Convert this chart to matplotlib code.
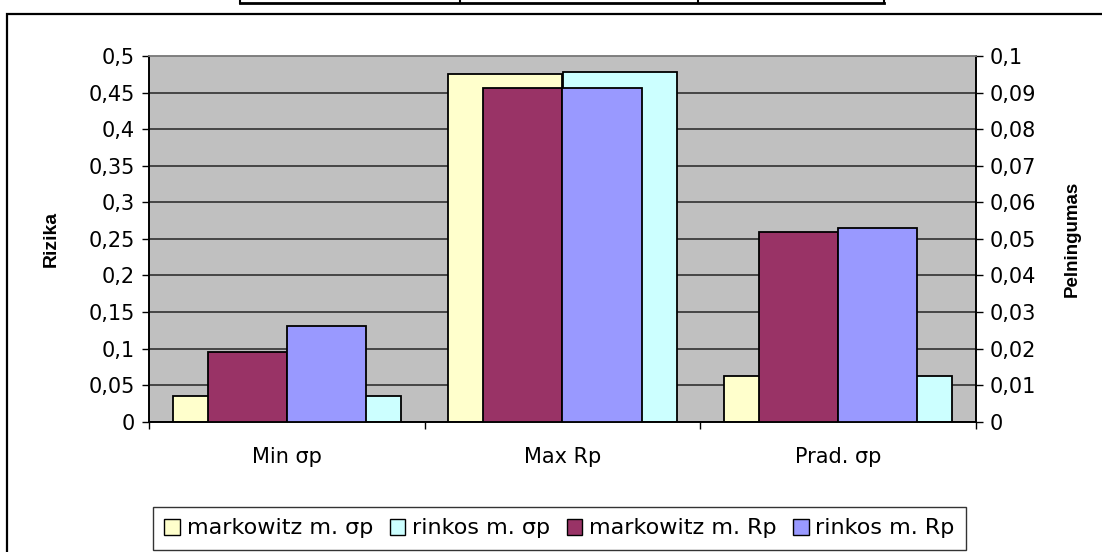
import numpy as np
import matplotlib
matplotlib.use("Agg")
import matplotlib.pyplot as plt
from matplotlib.ticker import FuncFormatter, FixedLocator
from matplotlib.patches import Rectangle, Patch
from matplotlib.lines import Line2D

categories = ['Min σp', 'Max Rp', 'Prad. σp']
# left axis (Rizika)
markowitz_sigma = [0.035, 0.476, 0.062]
rinkos_sigma = [0.035, 0.478, 0.062]
# right axis (Pelningumas)
markowitz_rp = [0.019, 0.0913, 0.0519]
rinkos_rp = [0.0261, 0.0913, 0.053]

labels = ['markowitz m. σp', 'rinkos m. σp', 'markowitz m. Rp', 'rinkos m. Rp']
colors = ['#FFFFCC', '#CCFFFF', '#993366', '#9999FF']

plt.rcParams['font.family'] = ['DejaVu Sans']

W, H = 1102, 552
fig = plt.figure(figsize=(W / 100, H / 100), dpi=100)
fig.patch.set_facecolor('white')

# plot area in pixels
left, right, top, bottom = 149, 976, 56, 421.7
ax = fig.add_axes([left / W, 1 - bottom / H, (right - left) / W, (bottom - top) / H])
ax2 = ax.twinx()

x = np.arange(len(categories))
w1 = 0.414
w2 = 0.287

ax.set_facecolor('#C0C0C0')
ax.bar(x - w1 / 2, markowitz_sigma, w1, color=colors[0], edgecolor='black', lw=1.3, zorder=3)
ax.bar(x + w1 / 2, rinkos_sigma, w1, color=colors[1], edgecolor='black', lw=1.3, zorder=3)
ax2.bar(x - w2 / 2, markowitz_rp, w2, color=colors[2], edgecolor='black', lw=1.3, zorder=3)
ax2.bar(x + w2 / 2, rinkos_rp, w2, color=colors[3], edgecolor='black', lw=1.3, zorder=3)

ax.set_xlim(-0.5, 2.5)
ax.set_ylim(0, 0.5)
ax2.set_ylim(0, 0.1)

comma = FuncFormatter(lambda v, p: ('%g' % round(v, 3)).replace('.', ','))
ax.yaxis.set_major_locator(FixedLocator(np.linspace(0, 0.5, 11)))
ax2.yaxis.set_major_locator(FixedLocator(np.linspace(0, 0.1, 11)))
ax.yaxis.set_major_formatter(comma)
ax2.yaxis.set_major_formatter(comma)

ax.yaxis.grid(True, color='#303030', lw=1.2, zorder=1)
ax.set_axisbelow(True)

# x ticks at category boundaries, labels at centers
ax.set_xticks([-0.5, 0.5, 1.5, 2.5])
ax.set_xticklabels([])
ax.set_xticks(x, minor=True)
ax.set_xticklabels(categories, minor=True)
ax.tick_params(axis='x', which='major', length=5, width=1, direction='out')
ax.tick_params(axis='x', which='minor', length=0, pad=18, labelsize=15)

ax.tick_params(axis='y', length=5, width=1, direction='out', pad=5, labelsize=15)
ax2.tick_params(axis='y', length=5, width=1, direction='out', pad=5, labelsize=15)

for a in (ax, ax2):
    for s in a.spines.values():
        s.set_linewidth(1.2)
    a.spines['top'].set_color('#808080')
ax2.patch.set_visible(False)

ax.set_ylabel('Rizika', fontsize=14, fontweight='bold', family='Liberation Sans')
ax.yaxis.set_label_coords(-0.108, 0.5)
ax2.set_ylabel('Pelningumas', fontsize=13.5, fontweight='bold', family='Liberation Sans')
ax2.yaxis.set_label_coords(1.106, 0.5)

handles = [Patch(facecolor=c, edgecolor='black', lw=1) for c in colors]
leg = fig.legend(handles, labels, loc='center', bbox_to_anchor=(559.5 / W, 1 - 528.5 / H),
                 ncol=4, frameon=True, fancybox=False, fontsize=16, handlelength=0.7,
                 handleheight=0.7, handletextpad=0.3, columnspacing=0.75, borderpad=0.5,
                 borderaxespad=0)
leg.get_frame().set_edgecolor('black')
leg.get_frame().set_linewidth(1)

# chart area border (extends past the right and bottom edges)
fig.add_artist(Rectangle((7 / W, -0.05), 1.2, (H - 14) / H + 0.05, transform=fig.transFigure,
                         fill=False, edgecolor='black', lw=1.6))

# bottom of a table row cut off at the top
ty = 1 - 3 / H
fig.add_artist(Line2D([240 / W, 884 / W], [ty, ty], transform=fig.transFigure, color='black', lw=2))
for px in (240, 460, 698, 884):
    fig.add_artist(Line2D([px / W, px / W], [ty, 1], transform=fig.transFigure, color='black', lw=1.5))

fig.savefig('out.png', dpi=100)
